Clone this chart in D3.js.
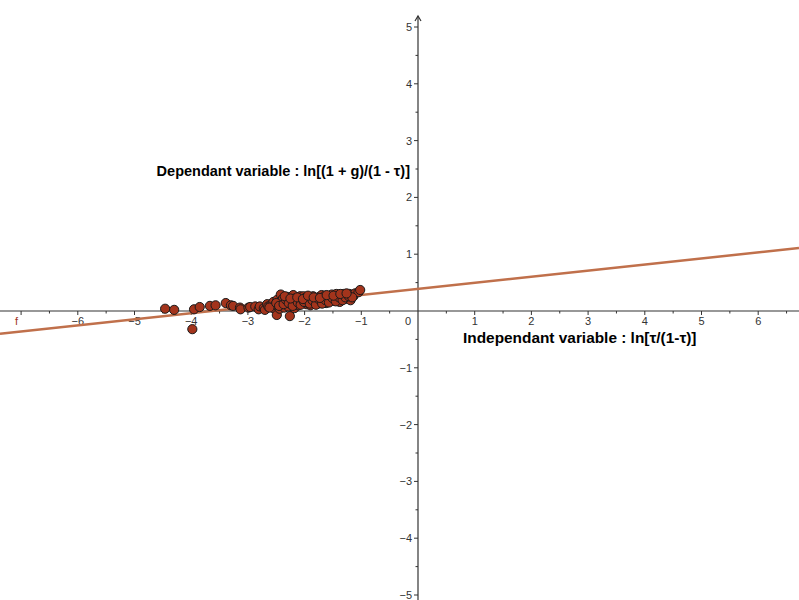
<!DOCTYPE html>
<html><head><meta charset="utf-8">
<script src="https://cdn.jsdelivr.net/npm/d3@7"></script>
<style>body{margin:0;background:#fff}svg{display:block}</style>
</head><body>
<script>
const xTicks = [-6,-5,-4,-3,-2,-1,1,2,3,4,5,6];
const yTicks = [-5,-4,-3,-2,-1,1,2,3,4,5];
const lineSlope = 0.107;
const lineIntercept = 0.39;
const lineName = "f";
const xLabel = "Independant variable : ln[τ/(1-τ)]";
const yLabel = "Dependant variable : ln[(1 + g)/(1 - τ)]";
const pointsX = [-4.46,-4.30,-3.95,-3.85,-3.98,-3.67,-3.57,-3.39,-3.30,-3.26,-3.14,-3.13,-2.99,-2.96,-2.87,-2.81,-2.79,-2.72,-2.70,-2.66,-2.64,-2.60,-2.55,-2.55,-2.52,-2.49,-2.48,-2.46,-2.44,-2.42,-2.41,-2.40,-2.38,-2.36,-2.34,-2.31,-2.29,-2.27,-2.26,-2.24,-2.22,-2.20,-2.18,-2.16,-2.14,-2.11,-2.08,-2.06,-2.04,-2.02,-1.99,-1.97,-1.95,-1.92,-1.90,-1.88,-1.85,-1.83,-1.81,-1.78,-1.76,-1.74,-1.72,-1.70,-1.68,-1.66,-1.64,-1.62,-1.60,-1.58,-1.56,-1.54,-1.52,-1.50,-1.48,-1.46,-1.44,-1.42,-1.40,-1.38,-1.36,-1.34,-1.31,-1.29,-1.27,-1.25,-1.23,-1.21,-1.19,-1.17,-1.14,-1.11,-1.05,-1.02,
  -2.62,-2.50,-2.45,-2.37,-2.33,-2.28,-2.21,-2.17,-2.12,-2.07,-2.01,-1.96,-1.91,-1.86,-1.80,-1.75,-1.69,-1.63,-1.57,-1.51,-1.45,-1.39,-1.33,-1.28,-1.22,-1.16,-2.35,-2.25,-2.13,-2.03,-1.94,-1.84,-1.73,-1.61,-1.49,-1.37,-1.26];
const pointsY = [0.04,0.02,0.03,0.07,-0.32,0.09,0.10,0.14,0.10,0.09,0.06,0.03,0.06,0.07,0.08,0.03,0.08,0.05,0.02,0.12,0.08,0.10,0.16,0.05,0.11,-0.07,0.20,0.13,0.04,0.29,0.18,0.10,0.22,0.06,0.15,0.25,0.08,0.19,-0.09,0.12,0.24,0.28,0.05,0.17,0.21,0.10,0.26,0.14,0.19,0.26,0.23,0.12,0.17,0.24,0.10,0.20,0.26,0.15,0.22,0.18,0.13,0.25,0.20,0.28,0.16,0.22,0.27,0.14,0.24,0.19,0.26,0.21,0.29,0.18,0.24,0.22,0.30,0.26,0.20,0.16,0.28,0.24,0.30,0.21,0.28,0.25,0.22,0.30,0.19,0.28,0.26,0.31,0.33,0.37,
  0.06,0.14,0.09,0.12,0.20,0.14,0.09,0.22,0.15,0.11,0.16,0.21,0.13,0.19,0.11,0.21,0.13,0.19,0.15,0.23,0.17,0.24,0.19,0.24,0.26,0.24,0.26,0.22,0.24,0.21,0.27,0.24,0.23,0.28,0.27,0.30,0.31];

const W = 799, H = 600;
const x = d3.scaleLinear().domain([-418/56.7, (W-418)/56.7]).range([0, W]);
const y = d3.scaleLinear().domain([-(H-311)/56.8, 311/56.8]).range([H, 0]);
const svg = d3.select("body").append("svg").attr("width", W).attr("height", H)
  .style("font-family", "Arial, 'Liberation Sans', sans-serif");

const axisCol = "#333";
const x0 = x(0), y0 = y(0);
svg.append("line").attr("x1", 0).attr("x2", W).attr("y1", y0).attr("y2", y0)
  .attr("stroke", axisCol).attr("stroke-width", 1.2);
svg.append("line").attr("x1", x0).attr("x2", x0).attr("y1", 16).attr("y2", H)
  .attr("stroke", axisCol).attr("stroke-width", 1.2);
svg.append("path").attr("d", `M${x0-3},${21} L${x0},${16} L${x0+3},${21}`)
  .attr("fill", "none").attr("stroke", axisCol).attr("stroke-width", 1.2);

const xMinor = d3.range(Math.ceil(x.domain()[0]*2), Math.floor(x.domain()[1]*2)+1).map(d => d/2).filter(d => d !== 0);
svg.selectAll(".xmt").data(xMinor).join("line")
  .attr("x1", d => x(d)).attr("x2", d => x(d)).attr("y1", y0).attr("y2", d => y0 + (Number.isInteger(d) ? 4 : 2.5))
  .attr("stroke", axisCol).attr("stroke-width", 1);
const yMinor = d3.range(Math.ceil(y.domain()[0]*2), Math.floor(y.domain()[1]*2)+1).map(d => d/2).filter(d => d !== 0);
svg.selectAll(".ymt").data(yMinor).join("line")
  .attr("y1", d => y(d)).attr("y2", d => y(d)).attr("x1", x0).attr("x2", d => x0 - (Number.isInteger(d) ? 4 : 2.5))
  .attr("stroke", axisCol).attr("stroke-width", 1);

const fmt = d => d < 0 ? "\u2212" + Math.abs(d) : String(d);
svg.selectAll(".xl").data(xTicks).join("text")
  .attr("x", d => x(d)).attr("y", y0 + 14).attr("text-anchor", "middle")
  .attr("font-size", 11).attr("fill", "#333").text(fmt);
svg.selectAll(".yl").data(yTicks).join("text")
  .attr("x", x0 - 6).attr("y", d => y(d) + 4).attr("text-anchor", "end")
  .attr("font-size", 11).attr("fill", "#333").text(fmt);
svg.append("text").attr("x", x0 - 7).attr("y", y0 + 14).attr("text-anchor", "end")
  .attr("font-size", 11).attr("fill", "#333").text("0");

const xd = x.domain();
svg.append("line")
  .attr("x1", x(xd[0])).attr("y1", y(lineSlope*xd[0] + lineIntercept))
  .attr("x2", x(xd[1])).attr("y2", y(lineSlope*xd[1] + lineIntercept))
  .attr("stroke", "#c0704b").attr("stroke-width", 2.5);
svg.append("text").attr("x", 15).attr("y", y0 + 14).attr("font-size", 11)
  .attr("fill", "#a0341e").text(lineName);

svg.selectAll(".pt").data(pointsX.map((v,i) => [v, pointsY[i]])).join("circle")
  .attr("cx", d => x(d[0])).attr("cy", d => y(d[1])).attr("r", 4.6)
  .attr("fill", "#a3341c").attr("stroke", "#1a1a1a").attr("stroke-width", 1);

svg.append("text").attr("x", 463).attr("y", 343).attr("font-size", 15.4).attr("font-weight", "bold")
  .attr("fill", "#000").text(xLabel);
svg.append("text").attr("x", 410).attr("y", 176).attr("text-anchor", "end").attr("font-size", 14.5).attr("font-weight", "bold")
  .attr("fill", "#000").text(yLabel);
</script>
</body></html>
